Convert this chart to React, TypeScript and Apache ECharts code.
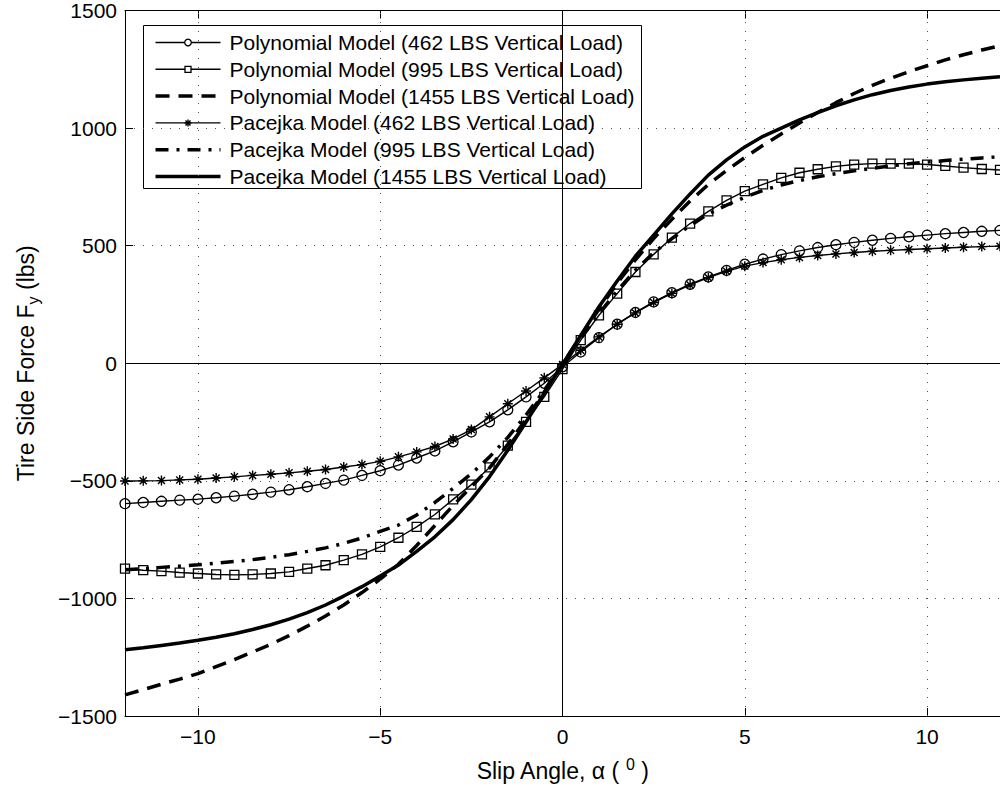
import React, { useEffect, useRef } from 'react';
import * as echarts from 'echarts';

// Slip angle (degrees)
const xs = [-12, -11.5, -11, -10.5, -10, -9.5, -9, -8.5, -8, -7.5, -7, -6.5, -6, -5.5, -5, -4.5, -4, -3.5, -3, -2.5, -2, -1.5, -1, -0.5,
  0, 0.5, 1, 1.5, 2, 2.5, 3, 3.5, 4, 4.5, 5, 5.5, 6, 6.5, 7, 7.5, 8, 8.5, 9, 9.5, 10, 10.5, 11, 11.5, 12];

// Polynomial Model (462 LBS)
const poly462 = [-597, -592, -587, -582, -578, -572, -565, -557, -548, -538, -525, -511, -497, -477, -457, -433, -403, -373, -334, -292, -249, -198, -143, -85,
  -15, 48, 109, 166, 216, 261, 300, 336, 367, 395, 421, 443, 462, 478, 492, 504, 514, 523, 531, 538, 545, 551, 556, 561, 565];

// Polynomial Model (995 LBS)
const poly995 = [-873, -880, -884, -890, -894, -898, -900, -898, -894, -887, -873, -859, -837, -813, -781, -742, -696, -643, -579, -516, -443, -350, -249, -143,
  -25, 98, 204, 296, 388, 463, 534, 594, 646, 693, 732, 761, 788, 810, 825, 837, 845, 849, 849, 849, 845, 839, 832, 826, 822];

// Polynomial Model (1455 LBS)
const poly1455 = [-1410, -1388, -1365, -1343, -1320, -1290, -1260, -1228, -1195, -1158, -1118, -1075, -1028, -975, -918, -855, -775, -690, -605, -525, -445, -345, -238, -122,
  -5, 115, 230, 340, 440, 530, 612, 690, 760, 820, 875, 927, 975, 1022, 1066, 1108, 1147, 1182, 1212, 1240, 1265, 1290, 1312, 1332, 1350];

// Pacejka Model (462 LBS)
const pac462 = [-501, -500, -499, -496, -493, -488, -483, -477, -472, -466, -459, -452, -441, -431, -417, -398, -377, -354, -322, -282, -228, -172, -118, -62,
  -5, 55, 112, 166, 214, 258, 297, 333, 364, 391, 413, 428, 440, 450, 458, 465, 471, 476, 480, 484, 487, 490, 493, 496, 498];

// Pacejka Model (995 LBS)
const pac995 = [-878, -873, -868, -863, -857, -850, -843, -835, -825, -814, -800, -785, -766, -743, -715, -688, -645, -592, -532, -470, -398, -315, -220, -115,
  -5, 105, 210, 308, 395, 470, 530, 585, 635, 672, 706, 735, 758, 777, 793, 806, 818, 829, 839, 848, 855, 862, 868, 873, 878];

// Pacejka Model (1455 LBS)
const pac1455 = [-1218, -1210, -1200, -1190, -1178, -1165, -1150, -1132, -1112, -1088, -1060, -1028, -990, -950, -905, -858, -800, -738, -665, -580, -482, -370, -250, -127,
  -5, 118, 240, 350, 455, 545, 635, 720, 800, 865, 920, 965, 1000, 1035, 1066, 1095, 1120, 1142, 1160, 1175, 1187, 1197, 1205, 1212, 1218];

const seriesNames = [
  'Polynomial Model (462 LBS Vertical Load)',
  'Polynomial Model (995 LBS Vertical Load)',
  'Polynomial Model (1455 LBS Vertical Load)',
  'Pacejka Model (462 LBS Vertical Load)',
  'Pacejka Model (995 LBS Vertical Load)',
  'Pacejka Model (1455 LBS Vertical Load)',
];

const xTicks = [-10, -5, 0, 5, 10];
const xGridLines = [-10, -5, 5, 10];

export default function App() {
  const ref = useRef<HTMLDivElement>(null);

  useEffect(() => {
    const chart = echarts.init(ref.current as HTMLDivElement, null, { renderer: 'svg' });
    const font = 'Liberation Sans, Arial, Helvetica, sans-serif';
    const pairs = (ys: number[]) => xs.map((x, i) => [x, ys[i]]);
    const minus = (v: number) => (v < 0 ? '\u2212' + Math.abs(v) : String(v));
    const dotted = { color: '#555', width: 1, type: [1, 8] as any };
    const star = 'path://M10,0L10,20M0,10L20,10M3,3L17,17M3,17L17,3';
    const thin = { color: '#000', width: 1.4 };
    const thick = 3.5;
    const dashPoly = [14, 9];
    const dashDot = [13, 8, 3, 8];

    // ---- legend drawn as graphic ----
    const lgX = 143;
    const lgY = 25;
    const lgW = 498;
    const lgH = 163;
    const rowPitch = 26.8;
    const firstRow = 17;
    const lineX1 = 12;
    const lineX2 = 77;
    const mid = (lineX1 + lineX2) / 2;
    const textX = 86;

    const legendStyles: any[] = [
      { width: 1.4, dash: null, marker: 'circle' },
      { width: 1.4, dash: null, marker: 'rect' },
      { width: thick, dash: dashPoly, marker: null },
      { width: 1.4, dash: null, marker: 'star' },
      { width: thick, dash: dashDot, marker: null },
      { width: thick, dash: null, marker: null },
    ];

    const legendChildren: any[] = [
      {
        type: 'rect',
        shape: { x: 0, y: 0, width: lgW, height: lgH },
        style: { fill: '#fff', stroke: '#000', lineWidth: 1 },
      },
    ];
    seriesNames.forEach((name, i) => {
      const cy = firstRow + rowPitch * i;
      const st = legendStyles[i];
      const lineStyle: any = { stroke: '#000', lineWidth: st.width };
      if (st.dash) lineStyle.lineDash = st.dash;
      legendChildren.push({
        type: 'line',
        shape: { x1: lineX1, y1: cy, x2: lineX2, y2: cy },
        style: lineStyle,
      });
      if (st.marker === 'circle') {
        legendChildren.push({
          type: 'circle',
          shape: { cx: mid, cy, r: 3.3 },
          style: { fill: '#fff', stroke: '#000', lineWidth: 1.3 },
        });
      } else if (st.marker === 'rect') {
        legendChildren.push({
          type: 'rect',
          shape: { x: mid - 3, y: cy - 3, width: 6, height: 6 },
          style: { fill: '#fff', stroke: '#000', lineWidth: 1.3 },
        });
      } else if (st.marker === 'star') {
        const r = 3.5;
        const d = 2.5;
        [
          [mid, cy - r, mid, cy + r],
          [mid - r, cy, mid + r, cy],
          [mid - d, cy - d, mid + d, cy + d],
          [mid - d, cy + d, mid + d, cy - d],
        ].forEach((s) => {
          legendChildren.push({
            type: 'line',
            shape: { x1: s[0], y1: s[1], x2: s[2], y2: s[3] },
            style: { stroke: '#000', lineWidth: 1.4 },
          });
        });
      }
      legendChildren.push({
        type: 'text',
        x: textX,
        y: cy,
        style: {
          text: name,
          font: '21px ' + font,
          fill: '#000',
          verticalAlign: 'middle',
          align: 'left',
        },
      });
    });

    const option: any = {
      animation: false,
      backgroundColor: '#fff',
      grid: { left: 125, top: 10, width: 879, height: 706, containLabel: false },
      graphic: [
        {
          type: 'group',
          left: lgX,
          top: lgY,
          z: 100,
          children: legendChildren,
        },
      ],
      xAxis: [
        {
          type: 'value',
          min: -12,
          max: 12,
          position: 'bottom',
          axisLine: { show: true, onZero: false, lineStyle: { color: '#000', width: 1 } },
          axisTick: { show: true, inside: true, length: 8, customValues: xTicks, lineStyle: { color: '#000' } },
          axisLabel: {
            customValues: xTicks,
            formatter: (v: number) => minus(v),
            fontSize: 21,
            fontFamily: font,
            color: '#000',
            margin: 10,
          },
          splitLine: { show: false },
          name: 'Slip Angle, \u03b1 ( {sup|0} )',
          nameLocation: 'middle',
          nameGap: 40,
          nameTextStyle: {
            fontSize: 23,
            fontFamily: font,
            color: '#000',
            rich: { sup: { fontSize: 16, fontFamily: font, color: '#000', padding: [0, 0, 14, 0] } },
          },
        },
        {
          type: 'value',
          min: -12,
          max: 12,
          position: 'top',
          axisLine: { show: true, onZero: false, lineStyle: { color: '#000', width: 1 } },
          axisTick: { show: true, inside: true, length: 8, customValues: xTicks, lineStyle: { color: '#000' } },
          axisLabel: { show: false },
          splitLine: { show: false },
        },
      ],
      yAxis: {
        type: 'value',
        min: -1500,
        max: 1500,
        interval: 500,
        axisLine: { show: true, onZero: false, lineStyle: { color: '#000', width: 1 } },
        axisTick: { show: true, inside: true, length: 8, lineStyle: { color: '#000' } },
        axisLabel: {
          formatter: (v: number) => minus(v),
          fontSize: 21,
          fontFamily: font,
          color: '#000',
          margin: 8,
        },
        splitLine: { show: true, lineStyle: dotted },
        name: 'Tire Side Force F{sub|y} (lbs)',
        nameLocation: 'middle',
        nameGap: 84,
        nameTextStyle: {
          fontSize: 23,
          fontFamily: font,
          color: '#000',
          rich: { sub: { fontSize: 16, fontFamily: font, color: '#000', padding: [14, 0, 0, 0] } },
        },
      },
      series: [
        {
          name: 'gridlines',
          type: 'line',
          data: [],
          silent: true,
          markLine: {
            silent: true,
            symbol: ['none', 'none'],
            label: { show: false },
            animation: false,
            data: [
              ...xGridLines.map((v) => ({ xAxis: v, lineStyle: dotted })),
              { xAxis: 0, lineStyle: { color: '#000', width: 1, type: 'solid' } },
              { yAxis: 0, lineStyle: { color: '#000', width: 1, type: 'solid' } },
            ],
          },
        },
        {
          name: seriesNames[0],
          type: 'line',
          data: pairs(poly462),
          symbol: 'circle',
          symbolSize: 10,
          showAllSymbol: true,
          color: '#000',
          itemStyle: { color: 'rgba(0,0,0,0)', borderColor: '#000', borderWidth: 1.3 },
          lineStyle: thin,
        },
        {
          name: seriesNames[1],
          type: 'line',
          data: pairs(poly995),
          symbol: 'rect',
          symbolSize: 9,
          showAllSymbol: true,
          color: '#000',
          itemStyle: { color: 'rgba(0,0,0,0)', borderColor: '#000', borderWidth: 1.3 },
          lineStyle: thin,
        },
        {
          name: seriesNames[2],
          type: 'line',
          data: pairs(poly1455),
          symbol: 'none',
          color: '#000',
          lineStyle: { color: '#000', width: thick, type: dashPoly },
        },
        {
          name: seriesNames[3],
          type: 'line',
          data: pairs(pac462),
          symbol: star,
          symbolSize: 10,
          showAllSymbol: true,
          color: '#000',
          itemStyle: { color: '#000', borderColor: '#000', borderWidth: 1.4 },
          lineStyle: thin,
        },
        {
          name: seriesNames[4],
          type: 'line',
          data: pairs(pac995),
          symbol: 'none',
          color: '#000',
          lineStyle: { color: '#000', width: thick, type: dashDot },
        },
        {
          name: seriesNames[5],
          type: 'line',
          data: pairs(pac1455),
          symbol: 'none',
          color: '#000',
          lineStyle: { color: '#000', width: thick, type: 'solid' },
        },
      ],
    };

    chart.setOption(option);
    return () => chart.dispose();
  }, []);

  return (
    <div
      ref={ref}
      style={{ position: 'fixed', left: 0, top: 0, width: 1000, height: 788, background: '#fff' }}
    />
  );
}
